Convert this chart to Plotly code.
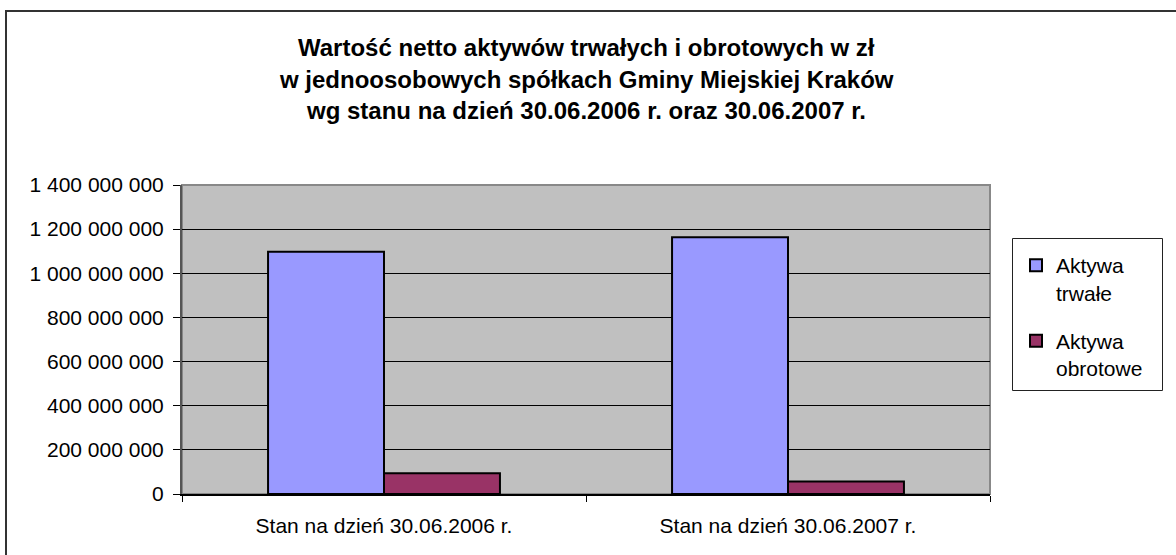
import plotly.graph_objects as go

categories = ["Stan na dzień 30.06.2006 r.", "Stan na dzień 30.06.2007 r."]
series_names = ["Aktywa<br>trwałe", "Aktywa<br>obrotowe"]
aktywa_trwale = [1098000000, 1163000000]
aktywa_obrotowe = [94000000, 57000000]
title_lines = [
    "Wartość netto aktywów trwałych i obrotowych w zł",
    "w jednoosobowych spółkach Gminy Miejskiej Kraków",
    "wg stanu na dzień 30.06.2006 r. oraz 30.06.2007 r.",
]
y_ticks = [0, 200000000, 400000000, 600000000, 800000000, 1000000000, 1200000000, 1400000000]

W, H = 1176, 555
L, R, T, B = 182, 186, 185, 61
pw, ph = W - L - R, H - T - B

def px(x):
    return (x - L) / pw

def py(y):
    return (H - B - y) / ph

FONT = "Liberation Sans, Arial, sans-serif"

fig = go.Figure()
fig.add_trace(go.Bar(x=categories, y=aktywa_trwale, name=series_names[0],
                     marker=dict(color="#9999FF", line=dict(color="black", width=2)),
                     legendgroup="a"))
fig.add_trace(go.Bar(x=categories, y=aktywa_obrotowe, name=series_names[1],
                     marker=dict(color="#993366", line=dict(color="black", width=2)),
                     legendgroup="b"))

annotations = []
for i, (line, yc) in enumerate(zip(title_lines, [47, 79, 110])):
    annotations.append(dict(text="<b>%s</b>" % line, x=px(586), y=py(yc), xref="paper", yref="paper",
                            xanchor="center", yanchor="middle", showarrow=False,
                            font=dict(family=FONT, size=24, color="black")))

shapes = [
    # outer chart border
    dict(type="rect", xref="paper", yref="paper", x0=px(6), x1=px(1190), y0=py(11), y1=py(570),
         line=dict(color="#333333", width=2), fillcolor="rgba(0,0,0,0)", layer="above"),
    # plot area border
    dict(type="rect", xref="paper", yref="paper", x0=0, x1=1, y0=0, y1=1,
         line=dict(color="#888888", width=2), fillcolor="rgba(0,0,0,0)", layer="below"),
    # legend box
    dict(type="rect", xref="paper", yref="paper", x0=px(1012.5), x1=px(1162.5), y0=py(390.5), y1=py(238.5),
         line=dict(color="#222222", width=1), fillcolor="white", layer="below"),
]

fig.update_layout(
    width=W, height=H,
    margin=dict(l=L, r=R, t=T, b=B, pad=0),
    paper_bgcolor="white", plot_bgcolor="#C0C0C0",
    separators=", ",
    barmode="group", bargap=0.426, bargroupgap=0,
    font=dict(family=FONT, size=21, color="black"),
    showlegend=True,
    legend=dict(x=px(1016), y=py(245), xanchor="left", yanchor="top",
                bgcolor="rgba(0,0,0,0)", borderwidth=0, valign="top",
                font=dict(family=FONT, size=21, color="black"),
                tracegroupgap=18, itemwidth=30),
    annotations=annotations,
    shapes=shapes,
)
fig.update_yaxes(range=[0, 1400000000], tickvals=y_ticks, tickformat=",d",
                 showgrid=True, gridcolor="black", gridwidth=1,
                 ticks="outside", ticklen=7, tickcolor="black", tickwidth=1,
                 showline=True, linecolor="#555555", linewidth=2,
                 zeroline=False, ticklabelstandoff=5,
                 tickfont=dict(family=FONT, size=21, color="black"))
fig.update_xaxes(tickson="boundaries", ticks="outside", ticklen=6, tickcolor="black",
                 showline=True, linecolor="black", linewidth=1.5,
                 showgrid=False, ticklabelstandoff=12,
                 tickfont=dict(family=FONT, size=21, color="black"))

fig.write_html("out.html", config={"displayModeBar": False},
               post_script="document.body.style.margin='0px';document.body.style.overflow='hidden';")
